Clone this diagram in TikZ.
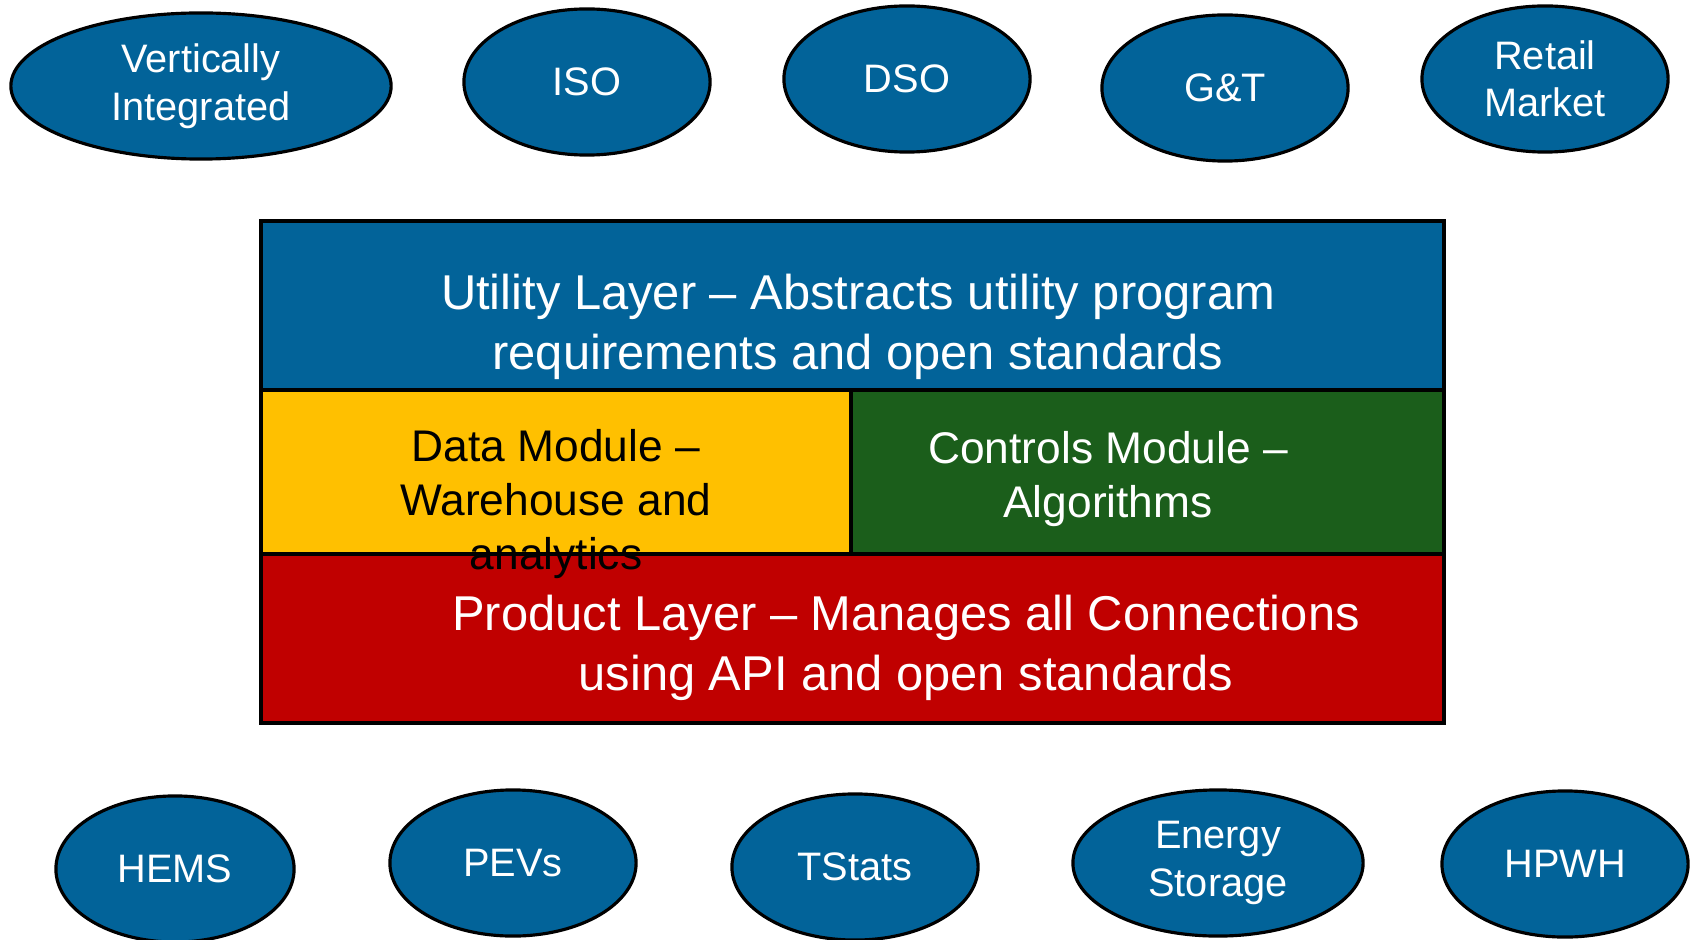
\documentclass[tikz,border=0pt]{standalone}
\usepackage{fontspec}
\setmainfont{Liberation Sans}
\usetikzlibrary{shapes.geometric}

\definecolor{utilblue}{RGB}{2,99,153}
\definecolor{datayellow}{RGB}{255,192,0}
\definecolor{ctrlgreen}{RGB}{27,94,27}
\definecolor{prodred}{RGB}{192,0,0}

\begin{document}
\begin{tikzpicture}[x=0.01cm,y=-0.01cm]
		\newcommand{\boxleft}{261}
		\newcommand{\boxright}{1444}
		\newcommand{\boxsplit}{851}
		\newcommand{\utiltop}{221}
		\newcommand{\modtop}{390}
		\newcommand{\prodtop}{554}
		\newcommand{\prodbot}{723}
		\newcommand{\ry}{73} % vertical half size of the ellipses

		% set the styles of the parties and of the layers
		\tikzset{
			party/.style={
				ellipse,
				draw=black,
				line width=0.9pt,
				fill=utilblue,
				text=white,
				inner sep=0pt,
				align=center,
				font=\fontsize{11.3pt}{13.5pt}\selectfont
				},
			layer/.style={
				draw=black,
				line width=1pt
				},
			layertext/.style={
				align=center,
				font=\fontsize{13.9pt}{17.1pt}\selectfont
				},
			moduletext/.style={
				align=center,
				font=\fontsize{12.6pt}{15.4pt}\selectfont
				}
		}

		\useasboundingbox (0,0) rectangle (1692,940);

		% utility side
		\foreach \cx/\cy/\rx/\nm/\txt in {201/86/190/vi/{Vertically\\Integrated},
				587/82/123/iso/ISO, 907/79/123/dso/DSO,
				1225/88/123/gt/G\&T, 1545/79/123/retail/{Retail\\Market}}
			\node[party, minimum width=\rx*0.02cm, minimum height=\ry*0.02cm] (\nm) at (\cx,\cy) {\txt};

		% layers
		\draw[layer, fill=utilblue] (\boxleft,\utiltop) rectangle (\boxright,\modtop);
		\draw[layer, fill=datayellow] (\boxleft,\modtop) rectangle (\boxsplit,\prodtop);
		\draw[layer, fill=ctrlgreen] (\boxsplit,\modtop) rectangle (\boxright,\prodtop);
		\draw[layer, fill=prodred] (\boxleft,\prodtop) rectangle (\boxright,\prodbot);

		\node[layertext, text=white] (utility) at (858,327)
			{Utility Layer -- Abstracts utility program\\requirements and open standards};
		\node[moduletext, text=black] (data) at (556,504)
			{Data Module --\\Warehouse and\\analytics};
		\node[moduletext, text=white] (controls) at (1108,479)
			{Controls Module --\\Algorithms};
		\node[layertext, text=white] (product) at (906,648)
			{Product Layer -- Manages all Connections\\using API and open standards};

		% product side
		\foreach \cx/\cy/\rx/\nm/\txt in {175/869/119/hems/HEMS,
				513/863/123/pevs/PEVs, 855/867/123/tstats/TStats,
				1218/863/145/storage/{Energy\\Storage}, 1565/864/123/hpwh/HPWH}
			\node[party, minimum width=\rx*0.02cm, minimum height=\ry*0.02cm] (\nm) at (\cx,\cy) {\txt};

\end{tikzpicture}
\end{document}
